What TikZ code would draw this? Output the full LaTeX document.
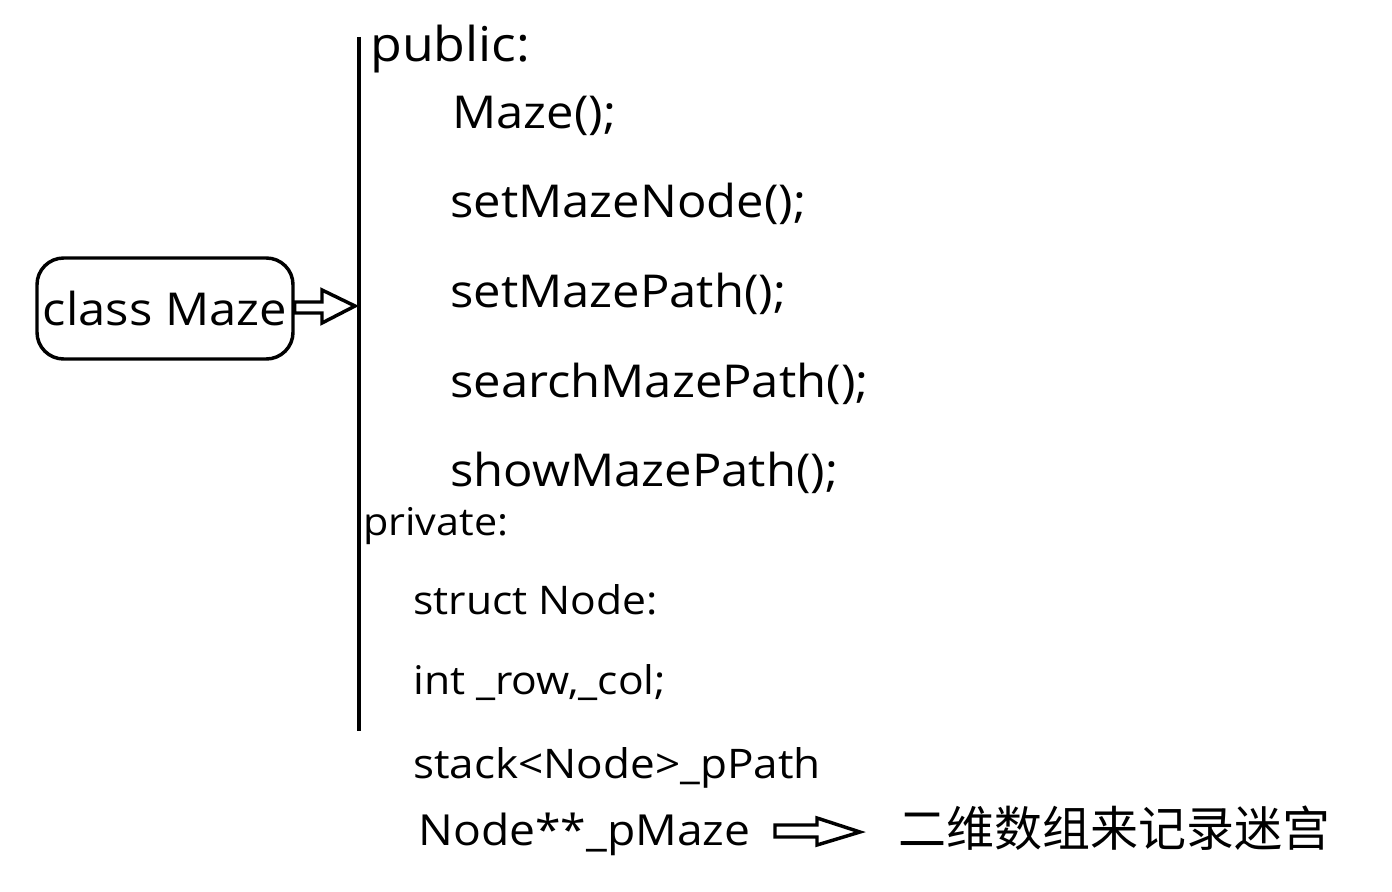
\documentclass[tikz,border=0pt]{standalone}
\usepackage{fontspec}
\setmainfont[FakeStretch=1.08]{Open Sans}
\newfontfamily\cjk{Noto Sans CJK SC}
\newcommand\fsz[1]{\fontsize{#1}{#1}\selectfont}
\begin{document}
\begin{tikzpicture}[x=0.75pt,y=-0.75pt]
\tikzset{
  code/.style={anchor=base west,inner sep=0pt,font=\fsz{34}},
  cls/.style={draw,line width=2.6pt,rounded corners=20pt,minimum width=192pt,minimum height=75.75pt,inner sep=0pt,font=\fsz{34}},
  hollow/.style={draw,line width=2.6pt,fill=white,line join=miter},
  bar/.style={line width=2.4pt}
}
\useasboundingbox (0,0) rectangle (1392,892);
\fill[white] (0,0) rectangle (1392,892);
\node[cls] (cls) at (165,308.5) {class Maze};
\coordinate (lt) at (359,37);
\coordinate (lb) at (359,731);
\draw[bar] (lt) -- (lb);
\draw[hollow] (cls.east|-0,302) -- (322,302) -- (322,290) -- (355,306) -- (322,323) -- (322,313) -- (cls.east|-0,313) -- cycle;
\node[code,font=\fsz{36}] (pub) at (370,62) {public:};
\node[code] (m1) at (452,128) {Maze();};
\node[code] (m2) at (450,217) {setMazeNode();};
\node[code] (m3) at (450,307) {setMazePath();};
\node[code] (m4) at (450,397) {searchMazePath();};
\node[code] (m5) at (450,486) {showMazePath();};
\node[code,font=\fsz{28.7}] (priv) at (363,535) {private:};
\node[code,font=\fsz{29.6}] (v1) at (413,614) {struct Node:};
\node[code,font=\fsz{29.6}] (v2) at (413,694) {int \_row,\_col;};
\node[code,font=\fsz{30.6}] (v3) at (413,778) {stack<Node>\_pPath};
\node[code,font=\fsz{32.1}] (v4) at (418,845) {Node**\_pMaze};
\coordinate (a0) at (775,825);
\draw[hollow] (a0) -- (817,825) -- (817,818) -- (860,832) -- (817,845) -- (817,837) -- (775,837) -- cycle;
\node[code,font=\cjk\fsz{36}] (cn) at (898,846) {二维数组来记录迷宫};
\end{tikzpicture}
\end{document}
